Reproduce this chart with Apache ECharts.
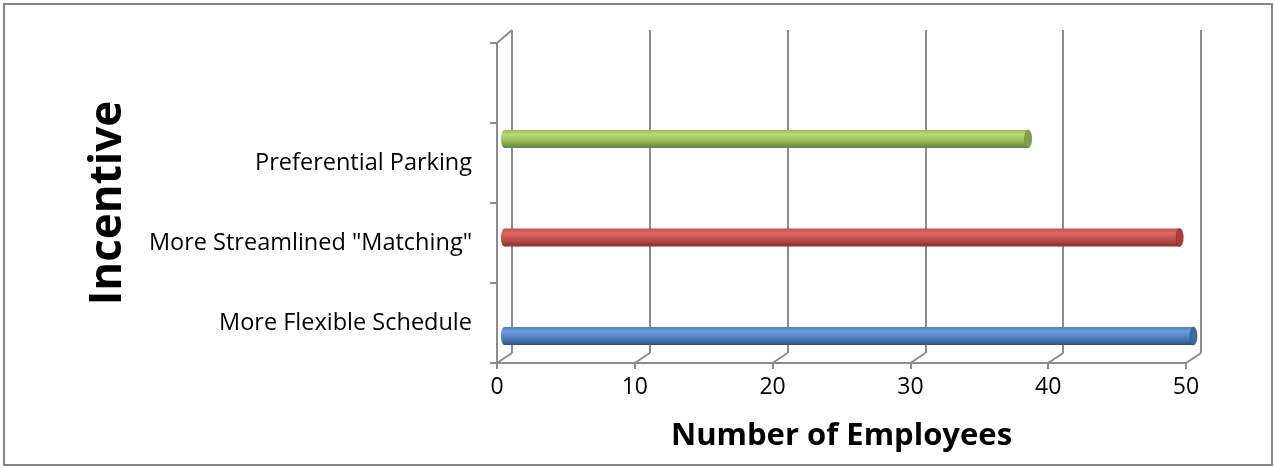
<!DOCTYPE html>
<html>
<head>
<meta charset="utf-8">
<script src="https://cdn.jsdelivr.net/npm/echarts@6/dist/echarts.min.js"></script>
<style>
  html, body { margin: 0; padding: 0; background: #fff; }
  #chart { width: 1275px; height: 468px; }
</style>
</head>
<body>
<div id="chart"></div>
<script>
  // data
  const categories = ['More Flexible Schedule', 'More Streamlined "Matching"', 'Preferential Parking', ''];
  const employees = [50, 49, 38];
  const barColors = [
    ['#6a9be0', '#4f81bd', '#2c5284', '#3e6aa3'],
    ['#e06a66', '#c0504d', '#8a2e2c', '#a83e3b'],
    ['#b8d977', '#9bbb59', '#67823a', '#82a04a']
  ];

  // front plane / back wall of the 3d box (pixels)
  const front = { left: 497, top: 43, right: 1186, bottom: 363 };
  const back = { left: 512, top: 30, right: 1201, bottom: 353 };
  const lineColor = '#8c8c8c';
  const font = 'Open Sans';

  const chart = echarts.init(document.getElementById('chart'));

  function renderCylinder(params, api) {
    let c = barColors[params.dataIndex];
    let p0 = api.coord([0, api.value(1)]);
    let p1 = api.coord([api.value(0), api.value(1)]);
    let h = 18, r = 3.5;
    let grad = new echarts.graphic.LinearGradient(0, 0, 0, 1, [
      { offset: 0, color: c[1] },
      { offset: 0.25, color: c[0] },
      { offset: 0.6, color: c[1] },
      { offset: 1, color: c[2] }
    ]);
    return {
      type: 'group',
      children: [
        { type: 'rect', shape: { x: p0[0], y: p0[1] - h / 2, width: p1[0] - p0[0], height: h }, style: { fill: grad } },
        { type: 'ellipse', shape: { cx: p0[0], cy: p0[1], rx: r, ry: h / 2 }, style: { fill: grad } },
        { type: 'ellipse', shape: { cx: p1[0], cy: p1[1], rx: r, ry: h / 2 }, style: { fill: c[3], stroke: c[2], lineWidth: 0.6 } }
      ]
    };
  }

  let option = {
    animation: false,
    grid: [
      { left: front.left, top: front.top, right: 1275 - front.right, bottom: 468 - front.bottom, outerBoundsMode: 'none' },
      { left: back.left, top: back.top, right: 1275 - back.right, bottom: 468 - back.bottom, outerBoundsMode: 'none' },
      { left: 504.5, top: 89.75, right: 81.5, bottom: 82.75, outerBoundsMode: 'none' }
    ],
    xAxis: [
      {
        gridIndex: 0, type: 'value', min: 0, max: 50, interval: 10,
        axisLine: { show: true, lineStyle: { color: lineColor, width: 2 } },
        axisTick: { show: true, length: 6, lineStyle: { color: lineColor, width: 2 } },
        axisLabel: { color: '#000', fontFamily: font, fontSize: 23, margin: 13 },
        splitLine: { show: false },
        name: 'Number of Employees', nameLocation: 'middle', nameGap: 58,
        nameTextStyle: { color: '#000', fontFamily: font, fontSize: 31, fontWeight: 'bold' }
      },
      {
        gridIndex: 1, type: 'value', min: 0, max: 50, interval: 10,
        axisLine: { show: false }, axisTick: { show: false }, axisLabel: { show: false },
        splitLine: { show: true, lineStyle: { color: lineColor, width: 2 } }
      },
      {
        gridIndex: 2, type: 'value', min: 0, max: 50, show: false
      }
    ],
    yAxis: [
      {
        gridIndex: 0, type: 'category', data: categories,
        axisLine: { show: true, lineStyle: { color: lineColor, width: 2 } },
        axisTick: { show: true, length: 7, lineStyle: { color: lineColor, width: 2 } },
        axisLabel: { color: '#000', fontFamily: font, fontSize: 23.5, margin: 25 },
        name: 'Incentive', nameLocation: 'middle', nameGap: 367, nameRotate: 90,
        nameTextStyle: { color: '#000', fontFamily: font, fontSize: 44, fontWeight: 'bold' }
      },
      {
        gridIndex: 1, type: 'value', min: 0, max: 1, show: false
      },
      {
        gridIndex: 2, type: 'category', data: categories.slice(0, 3), show: false
      }
    ],
    series: [
      {
        type: 'custom',
        xAxisIndex: 2, yAxisIndex: 2,
        renderItem: renderCylinder,
        encode: { x: 0, y: 1 },
        data: employees.map((v, i) => [v, i]),
        z: 5
      }
    ]
  };
  chart.setOption(option);

  // joins between front plane and back wall, at each tick of the value axis
  let joins = [];
  for (let v = 0; v <= 50; v += 10) {
    let xf = chart.convertToPixel({ xAxisIndex: 0 }, v);
    let xb = chart.convertToPixel({ xAxisIndex: 1 }, v);
    joins.push({ x1: xf, y1: front.bottom, x2: xb, y2: back.bottom });
  }
  joins.push({ x1: front.left, y1: front.top, x2: back.left, y2: back.top });

  chart.setOption({
    graphic: joins.map(s => ({
      type: 'line', shape: s, silent: true, z: 1,
      style: { stroke: lineColor, lineWidth: 2 }
    })).concat([{
      type: 'rect', shape: { x: 4, y: 4, width: 1268, height: 461 }, silent: true,
      style: { fill: null, stroke: '#868686', lineWidth: 2 }
    }])
  });
</script>
</body>
</html>
